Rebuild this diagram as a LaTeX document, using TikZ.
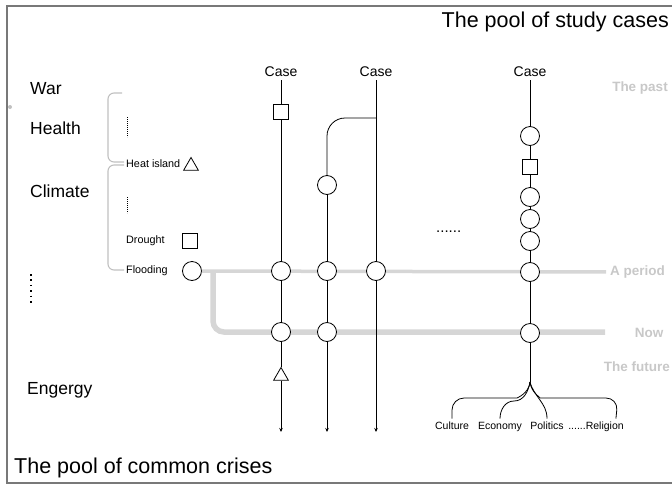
\documentclass[tikz,border=0pt]{standalone}
\usepackage{fontspec}
\setmainfont{Liberation Sans}
\usetikzlibrary{shapes.geometric,arrows.meta}
\definecolor{linegray}{RGB}{214,214,214}
\definecolor{textgray}{RGB}{200,200,200}
\definecolor{bracegray}{RGB}{192,192,192}
\definecolor{framegray}{RGB}{120,120,120}

\begin{document}
\begin{tikzpicture}[x=1pt, y=-1pt,
    evt/.style={circle, draw, fill=white, line width=0.8pt, inner sep=0pt, minimum size=19pt},
    sq/.style={rectangle, draw, fill=white, line width=0.8pt, inner sep=0pt, minimum size=15pt},
    tri/.style={regular polygon, regular polygon sides=3, draw, fill=white, line width=0.8pt, inner sep=0pt, minimum size=17pt},
    link/.style={line width=0.8pt},
    run/.style={link, -{Stealth[length=4pt, width=3.5pt]}},
    case/.style={inner sep=3pt, font=\fontsize{14}{16}\selectfont},
    crisis/.style={anchor=west, inner sep=0pt, font=\fontsize{17.5}{20}\selectfont},
    small/.style={anchor=west, inner sep=0pt, font=\fontsize{10.8}{13}\selectfont},
    aspect/.style={inner ysep=3pt, inner xsep=1pt, text height=8pt, text depth=2.5pt, font=\fontsize{10.5}{12}\selectfont},
    era/.style={text=textgray, inner sep=1pt, font=\fontsize{13.5}{16}\bfseries\selectfont},
    title/.style={inner sep=0pt, font=\fontsize{21.5}{25}\selectfont},
    frame/.style={draw=framegray, line width=1.5pt},
    brace/.style={draw=bracegray, line width=1.1pt, rounded corners=6pt},
    vdots/.style={line width=1.5pt, dash pattern=on 1.5pt off 3.9pt},
    fine dots/.style={line width=0.6pt, dash pattern=on 0.7pt off 1.3pt},
    period/.style={draw=linegray, line width=3.5pt},
    now/.style={draw=linegray, line width=5.5pt, rounded corners=11pt}]
    \useasboundingbox (0,0) rectangle (672,485);

    % Frame and titles
    \draw[frame] (672,6) -- (7,6) -- (7,483) -- (672,483);
    \fill[bracegray] (10,107) circle (2pt);
    \node[title, anchor=east] (T1) at (669,22) {The pool of study cases};
    \node[title, anchor=west] (T2) at (14,468) {The pool of common crises};

    % Crises
    \node[crisis] (W) at (30,89) {War};
    \node[crisis] (H) at (30,128) {Health};
    \node[crisis] (CL) at (30,191) {Climate};
    \node[crisis] (EN) at (27,390) {Engergy};
    \draw[vdots] (31,274) -- (31,303);

    % Climate events
    \node[small] (HI) at (126,164) {Heat island};
    \node[tri] (HT) at (191,166) {};
    \node[small] (DR) at (126,241) {Drought};
    \node[sq] (DS) at (190,241) {};
    \node[small] (FL) at (126,271) {Flooding};
    \node[evt] (F) at (192,271) {};
    \draw[fine dots] (127,117) -- (127,137);
    \draw[fine dots] (127,197) -- (127,213);
    \draw[brace] (122,93) -- (108,93) -- (108,162) -- (124,162);
    \draw[brace] (124,165) -- (108,165) -- (108,270) -- (124,270);

    % Time lines
    \node[era] (PA) at (640,88) {The past};
    \node[era, anchor=west] (AP) at (609,272) {A period};
    \node[era] (NW) at (649,333) {Now};
    \node[era, anchor=east] (FU) at (671,367) {The future};
    \coordinate (K) at (213,272);
    \coordinate (NE) at (605,332);
    \draw[period, shorten >=3pt] (F) -- (AP);
    \draw[now] (K) |- (NE);

    % First case
    \begin{scope}
        \node[case] (L1) at (281,72) {Case};
        \node[sq] (A1) at (281,112) {};
        \node[evt] (A2) at (281,271) {};
        \node[evt] (A3) at (281,332) {};
        \node[tri] (A4) at (281,376) {};
        \coordinate (E1) at (281,432);
        \draw[link] (L1) -- (A1);
        \draw[link] (A1) -- (A2);
        \draw[link] (A2) -- (A3);
        \draw[link] (A3) -- (A4);
        \draw[run] (A4) -- (E1);
    \end{scope}

    % Second case
    \begin{scope}
        \node[case] (L2) at (376,72) {Case};
        \coordinate (J) at (376,118);
        \node[evt] (B1) at (327,185) {};
        \node[evt] (B2) at (327,271) {};
        \node[evt] (B3) at (327,332) {};
        \node[evt] (B4) at (376,271) {};
        \coordinate (E2) at (327,432);
        \coordinate (E3) at (376,432);
        \draw[link] (L2) -- (B4);
        \draw[link, rounded corners=18pt] (J) -| (B1);
        \draw[link] (B1) -- (B2);
        \draw[link] (B2) -- (B3);
        \draw[run] (B3) -- (E2);
        \draw[run] (B4) -- (E3);
    \end{scope}

    % Third case
    \begin{scope}
        \node[case] (L3) at (530,72) {Case};
        \node[evt] (C1) at (530,136) {};
        \node[sq] (C2) at (530,167) {};
        \node[evt] (C3) at (530,197) {};
        \node[evt] (C4) at (530,219) {};
        \node[evt] (C5) at (530,241) {};
        \node[evt] (C6) at (530,272) {};
        \node[evt] (C7) at (530,333) {};
        \coordinate (R) at (530,382);
        \draw[link] (L3) -- (C1);
        \draw[link] (C1) -- (C2);
        \draw[link] (C2) -- (C3);
        \draw[link] (C3) -- (C4);
        \draw[link] (C4) -- (C5);
        \draw[link] (C5) -- (C6);
        \draw[link] (C6) -- (C7);
        \draw[link] (C7) -- (R);
    \end{scope}
    \node[small, font=\fontsize{15}{16}\selectfont] (DOTS) at (436,232) {......};

    % Aspects of the third case
    \node[aspect] (CU) at (452,427) {Culture};
    \node[aspect] (EC) at (500,427) {Economy};
    \node[aspect] (PO) at (547,427) {Politics};
    \node[aspect] (RE) at (596,427) {......Religion};
    \draw[link, rounded corners=12pt] (R) to[out=-95, in=0] (505,398) -- (452,398) -- (CU.north);
    \draw[link] (R) to[out=-100, in=0] (514,401) to[out=180, in=90] (EC.north);
    \draw[link] (R) to[out=-75, in=90] (PO.north);
    \draw[link, rounded corners=12pt] (R) to[out=-85, in=180] (552,398) -- (618,398) -- ([xshift=-9pt]RE.north east);
\end{tikzpicture}
\end{document}
